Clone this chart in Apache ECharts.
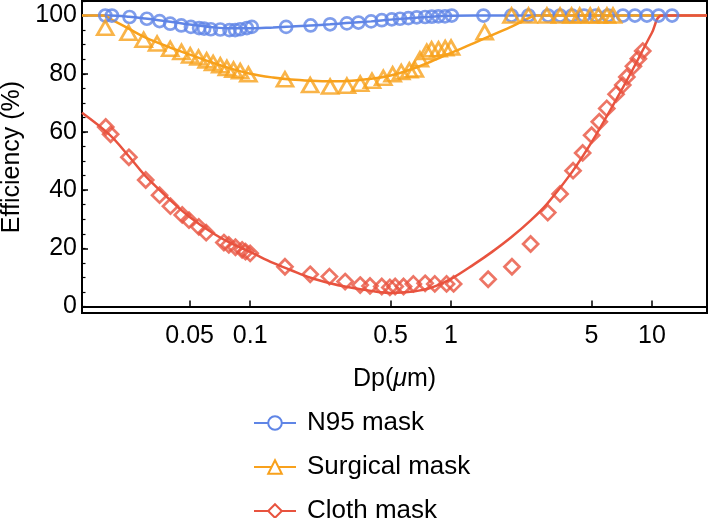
<!DOCTYPE html>
<html>
<head>
<meta charset="utf-8">
<script src="https://cdn.jsdelivr.net/npm/echarts@6/dist/echarts.min.js"></script>
<style>html,body{margin:0;padding:0;background:#fff}#c{width:709px;height:518px}</style>
</head>
<body>
<div id="c"></div>
<script>
const xTicks = [0.05, 0.1, 0.5, 1, 5, 10];
const yTicks = [0, 20, 40, 60, 80, 100];
const yMinorTicks = [0, 5, 10, 15, 20, 25, 30, 35, 40, 45, 50, 55, 60, 65, 70, 75, 80, 85, 90, 95, 100, 105];

const n95X = [0.019,0.0205,0.0251,0.0306,0.0354,0.040,0.0454,0.0507,0.0557,0.059,0.0637,0.071,0.0789,0.0842,0.0892,0.0963,0.1019,0.151,0.200,0.250,0.303,0.346,0.40,0.452,0.507,0.557,0.613,0.675,0.743,0.802,0.865,0.933,1.008,1.45,2.0,2.43,3.04,3.49,4.0,4.59,5.26,6.04,7.17,8.23,9.44,10.8,12.6];
const n95Y = [100,100,99.5,98.9,98.1,97.2,96.6,96.1,95.7,95.5,95.3,95.2,95.0,95.0,95.3,95.7,96.1,96.1,96.6,97.0,97.3,97.6,98.0,98.4,98.7,98.9,99.1,99.4,99.5,99.6,99.7,99.7,100,100,100,100,100,100,100,100,100,100,100,100,100,100,100];

const surgX = [0.019,0.0248,0.0295,0.0344,0.040,0.0455,0.0503,0.0553,0.0607,0.0654,0.071,0.0766,0.0826,0.0892,0.098,0.149,0.199,0.25,0.303,0.353,0.404,0.46,0.512,0.565,0.62,0.66,0.70,0.757,0.80,0.866,0.935,1.0,1.47,2.0,2.43,3.0,3.49,3.98,4.37,4.93,5.42,5.97,6.4];
const surgY = [95.8,94.1,91.7,90.4,88.6,87.5,86.3,85.6,84.6,83.7,82.9,82.0,81.4,80.9,79.8,78.1,76.1,75.6,75.9,76.6,77.6,78.6,79.8,80.6,81.2,81.5,85.0,87.5,88.4,88.4,88.8,89.0,94.3,100,100,100,100,100,100,100,100,100,100];

const clothX = [0.0191,0.0202,0.0249,0.0302,0.0354,0.0401,0.0459,0.0496,0.0555,0.0604,0.074,0.0783,0.0845,0.0912,0.0948,0.1,0.149,0.199,0.248,0.297,0.353,0.395,0.452,0.496,0.527,0.58,0.649,0.743,0.83,0.95,1.03,1.53,2.01,2.49,3.03,3.49,4.05,4.52,5.01,5.47,5.96,6.63,7.16,7.5,8.09,8.56,9.0];
const clothY = [61.7,59.2,51.3,43.5,38.3,34.5,31.5,29.7,27.4,25.4,22.0,21.2,20.4,19.5,18.9,18.3,13.7,11.1,10.3,8.6,7.4,7.1,6.9,6.6,6.9,6.9,7.8,8.0,7.8,7.8,7.8,9.4,13.7,21.5,32.3,38.7,46.7,52.8,58.9,63.5,68.1,73.0,76.1,78.9,82.6,85.2,87.8];

// fitted curves
const n95FitX = [0.01455,0.02,0.025,0.03,0.04,0.05,0.065,0.08,0.1,0.13,0.16,0.2,0.25,0.3,0.4,0.5,0.65,0.8,1,1.3,18.8];
const n95FitY = [100,100,99.6,99.0,97.9,96.9,96.0,95.6,95.6,95.9,96.2,96.6,97.0,97.4,98.0,98.6,99.2,99.6,99.9,100,100];
const surgFitX = [0.01455,0.0185,0.021,0.025,0.03,0.04,0.05,0.065,0.08,0.1,0.13,0.16,0.2,0.25,0.3,0.4,0.5,0.65,0.8,1,1.3,1.6,2,2.4,2.65,18.8];
const surgFitY = [100,100,98.2,95.4,92.5,89.0,86.6,83.8,81.8,80.0,78.7,78.0,77.6,77.4,77.5,78.3,79.4,81.8,84.3,87.2,90.5,93.3,96.2,98.9,100,100];
const clothFitX = [0.01455,0.02,0.025,0.03,0.04,0.05,0.065,0.08,0.1,0.13,0.16,0.2,0.25,0.3,0.4,0.5,0.65,0.8,1,1.3,1.6,2,2.5,3,4,5,6.5,8,10,11.2,18.8];
const clothFitY = [66.6,59.0,51.5,45.0,36.6,30.8,25.3,21.8,18.8,15.0,12.5,9.9,8.0,6.8,5.4,4.7,5.2,6.5,9.5,14.5,18.8,23.9,29.7,35.2,46.2,56.4,70.0,81.3,94.1,100,100];

const BLUE = '#5F85E6', ORANGE = '#F8A11C', RED = '#E8533F';
const zip = (a, b) => a.map((v, i) => [v, b[i]]);
const FONT = 'Liberation Sans, Arial, sans-serif';

function fit(name, xs, ys, color, symbol, size) {
  return {
    name, type: 'line', data: zip(xs, ys), smooth: 0.35,
    symbol, symbolSize: size, showSymbol: false,
    lineStyle: { color, width: 2.5 },
    itemStyle: { color: '#fff', borderColor: color, borderWidth: 2.8 },
    emphasis: { disabled: true }, silent: true, z: 2
  };
}
function marks(name, xs, ys, color, symbol, size) {
  return {
    name, type: 'scatter', data: zip(xs, ys), symbol, symbolSize: size,
    itemStyle: { color: 'rgba(255,255,255,0)', borderColor: color, borderWidth: 2.7 },
    emphasis: { disabled: true }, silent: true, z: 3
  };
}

const chart = echarts.init(document.getElementById('c'), null, { renderer: 'canvas' });
chart.setOption({
  animation: false,
  backgroundColor: '#fff',
  grid: { left: 82, right: 2, top: 1, bottom: 205, outerBoundsMode: 'none', containLabel: false,
    show: true, borderColor: '#000', borderWidth: 2, backgroundColor: 'transparent' },
  xAxis: {
    type: 'log', logBase: 10, min: 0.01455, max: 18.8,
    name: 'Dp({i|μ}m)', nameLocation: 'middle', nameGap: 54,
    nameTextStyle: { fontFamily: FONT, fontSize: 25, color: '#000', rich: { i: { fontStyle: 'italic', fontFamily: FONT, fontSize: 25, color: '#000' } } },
    axisLine: { show: true, lineStyle: { color: '#000', width: 2 } },
    axisTick: { show: true, inside: true, length: 6, customValues: xTicks, lineStyle: { color: '#000', width: 1.5 } },
    axisLabel: { customValues: xTicks, margin: 11, fontFamily: FONT, fontSize: 25, color: '#000',
      formatter: v => String(parseFloat(Number(v).toPrecision(6))) },
    splitLine: { show: false }, minorTick: { show: false }
  },
  yAxis: [{
    type: 'value', min: -2.2, max: 105,
    name: 'Efficiency (%)', nameLocation: 'middle', nameGap: 50,
    nameTextStyle: { fontFamily: FONT, fontSize: 25, color: '#000' },
    axisLine: { show: true, lineStyle: { color: '#000', width: 2 } },
    axisTick: { show: true, inside: true, length: 6, customValues: yTicks, lineStyle: { color: '#000', width: 1.5 } },
    axisLabel: { customValues: yTicks, margin: 5, fontFamily: FONT, fontSize: 25, color: '#000' },
    splitLine: { show: false }
  }, {
    type: 'value', min: -2.2, max: 105, position: 'left', offset: 0,
    axisLine: { show: false },
    axisTick: { show: true, inside: true, length: 3.5, customValues: yMinorTicks, lineStyle: { color: '#000', width: 1.2 } },
    axisLabel: { show: false }, splitLine: { show: false }
  }],
  legend: {
    orient: 'vertical', left: 248, top: 405, height: 200, itemGap: 18, itemWidth: 42, itemHeight: 17,
    textStyle: { fontFamily: FONT, fontSize: 26, color: '#000', padding: [0, 0, 0, 6] },
    data: ['N95 mask', 'Surgical mask', 'Cloth mask']
  },
  series: [
    fit('N95 mask', n95FitX, n95FitY, BLUE, 'circle', 11),
    marks('N95 mask', n95X, n95Y, BLUE, 'circle', 12),
    fit('Surgical mask', surgFitX, surgFitY, ORANGE, 'triangle', [14, 12]),
    marks('Surgical mask', surgX, surgY, ORANGE, 'triangle', [16, 14]),
    fit('Cloth mask', clothFitX, clothFitY, RED, 'diamond', [14, 14]),
    marks('Cloth mask', clothX, clothY, RED, 'diamond', [15, 15])
  ]
});
</script>
</body>
</html>
